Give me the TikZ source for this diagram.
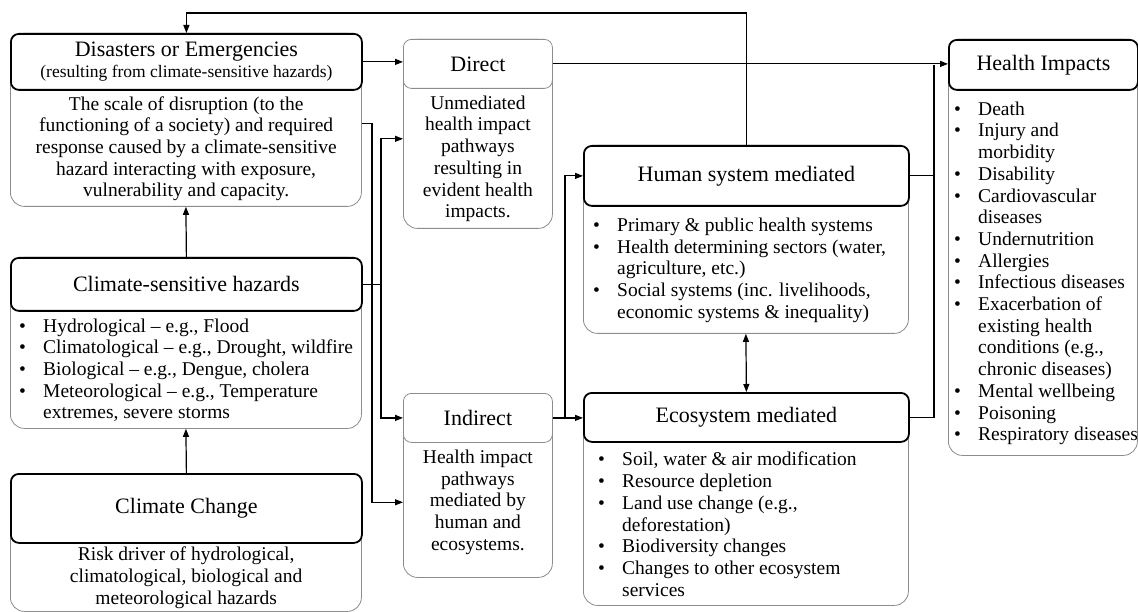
\documentclass[tikz,border=0pt]{standalone}
\usepackage{fontspec}
\setmainfont{Liberation Serif}
\usepackage{tikz}
\usetikzlibrary{arrows.meta}
\usetikzlibrary{calc}
\usetikzlibrary{positioning}
\newcommand{\headfont}{\fontsize{22}{25}\selectfont}
\newcommand{\subfont}{\fontsize{17.5}{19}\selectfont}
\newcommand{\bodyfont}{\fontsize{19.5}{21.7}\selectfont}
\newcommand{\bl}{\makebox[24pt][l]{\textbullet}}
\newcommand{\cl}{\hspace*{24pt}}

\begin{document}
\begin{tikzpicture}[x=1pt, y=-1pt, auto, >={Triangle[length=8pt,width=6pt]}]

    % TikZ styles for drawing %%%%%%%%%%%%%%%%%%%%%%%%%%%%%%%%%%%%%%%%%%%%%%%%%%%%%%
    \tikzstyle{frame} = [draw=black!45, line width=0.8pt, rounded corners=14pt, anchor=north west, inner sep=0pt]
    \tikzstyle{head} = [draw, line width=1.8pt, rounded corners=8pt, fill=white, anchor=north west, inner sep=0pt, align=center, font=\headfont]
    \tikzstyle{body} = [inner sep=0pt, align=center, font=\bodyfont]
    \tikzstyle{list} = [inner sep=0pt, align=left, anchor=west, font=\bodyfont]
    \tikzstyle{connector} = [->, line width=1.2pt]
    \tikzstyle{line} = [line width=1.2pt]

    \useasboundingbox (0,0) rectangle (1138,612);

    % Left column %%%%%%%%%%%%%%%%%%%%%%%%%%%%%%%%%%%%%%%%%%%%%%%%%%%%%%%%%%%%%%%%%%%%
    \node[frame, minimum width=351pt, minimum height=173pt] (disframe) at (10,33) {};
    \node[head, minimum width=351pt, minimum height=56pt] (dis) at (disframe.north west)
      {Disasters or Emergencies\\[-4pt]{\subfont (resulting from climate-sensitive hazards)}};
    \node[body] (disbody) at ($(dis.south)!0.5!(disframe.south)$)
      {The scale of disruption (to the\\ functioning of a society) and required\\
       response caused by a climate-sensitive\\ hazard interacting with exposure,\\
       vulnerability and capacity.};

    \node[frame, minimum width=351pt, minimum height=171pt] (hazframe) at (10,257) {};
    \node[head, minimum width=351pt, minimum height=53pt] (haz) at (hazframe.north west)
      {Climate-sensitive hazards};
    \node[list, xshift=9pt] (hazbody) at ($(haz.south west)!0.5!(hazframe.south west)$)
      {\bl Hydrological \textendash{} e.g., Flood\\
       \bl Climatological \textendash{} e.g., Drought, wildfire\\
       \bl Biological \textendash{} e.g., Dengue, cholera\\
       \bl Meteorological \textendash{} e.g., Temperature\\
       \cl extremes, severe storms};

    \node[frame, minimum width=351pt, minimum height=138pt] (ccframe) at (10,473) {};
    \node[head, minimum width=351pt, minimum height=69pt] (cc) at (ccframe.north west)
      {Climate Change};
    \node[body] (ccbody) at ($(cc.south)!0.5!(ccframe.south)$)
      {Risk driver of hydrological,\\ climatological, biological and\\ meteorological hazards};

    % Pathways %%%%%%%%%%%%%%%%%%%%%%%%%%%%%%%%%%%%%%%%%%%%%%%%%%%%%%%%%%%%%%%%%%%%%%%
    \node[frame, minimum width=149pt, minimum height=189pt] (dirframe) at (403,39) {};
    \node[head, minimum width=149pt, minimum height=49pt, draw=black!45, line width=0.8pt] (direct) at (dirframe.north west)
      {Direct};
    \node[body] (dirbody) at ($(direct.south)!0.5!(dirframe.south)$)
      {Unmediated\\ health impact\\ pathways\\ resulting in\\ evident health\\ impacts.};

    \node[frame, minimum width=149pt, minimum height=184pt] (indframe) at (403,393) {};
    \node[head, minimum width=149pt, minimum height=49pt, draw=black!45, line width=0.8pt] (indirect) at (indframe.north west)
      {Indirect};
    \node[body, yshift=8pt] (indbody) at ($(indirect.south)!0.5!(indframe.south)$)
      {Health impact\\ pathways\\ mediated by\\ human and\\ ecosystems.};

    % Mediators %%%%%%%%%%%%%%%%%%%%%%%%%%%%%%%%%%%%%%%%%%%%%%%%%%%%%%%%%%%%%%%%%%%%%%
    \node[frame, minimum width=325pt, minimum height=188pt] (humanframe) at (583,145) {};
    \node[head, minimum width=325pt, minimum height=60pt] (human) at (humanframe.north west)
      {Human system mediated};
    \node[list, xshift=10pt] (humanbody) at ($(human.south west)!0.5!(humanframe.south west)$)
      {\bl Primary \& public health systems\\
       \bl Health determining sectors (water,\\
       \cl agriculture, etc.)\\
       \bl Social systems (inc. livelihoods,\\
       \cl economic systems \& inequality)};

    \node[frame, minimum width=325pt, minimum height=213pt] (ecoframe) at (583,392) {};
    \node[head, minimum width=325pt, minimum height=49pt] (eco) at (ecoframe.north west)
      {Ecosystem mediated};
    \node[list, xshift=15pt] (ecobody) at ($(eco.south west)!0.5!(ecoframe.south west)$)
      {\bl Soil, water \& air modification\\
       \bl Resource depletion\\
       \bl Land use change (e.g.,\\
       \cl deforestation)\\
       \bl Biodiversity changes\\
       \bl Changes to other ecosystem\\
       \cl services};

    % Outcomes %%%%%%%%%%%%%%%%%%%%%%%%%%%%%%%%%%%%%%%%%%%%%%%%%%%%%%%%%%%%%%%%%%%%%%%
    \node[frame, minimum width=189pt, minimum height=416pt] (impframe) at (948,39) {};
    \node[head, minimum width=189pt, minimum height=50pt] (impacts) at (impframe.north west)
      {Health Impacts};
    \node[list, xshift=6pt] (impbody) at ($(impacts.south west)!0.5!(impframe.south west)$)
      {\bl Death\\
       \bl Injury and\\ \cl morbidity\\
       \bl Disability\\
       \bl Cardiovascular\\ \cl diseases\\
       \bl Undernutrition\\
       \bl Allergies\\
       \bl Infectious diseases\\
       \bl Exacerbation of\\ \cl existing health\\ \cl conditions (e.g.,\\ \cl chronic diseases)\\
       \bl Mental wellbeing\\
       \bl Poisoning\\
       \bl Respiratory diseases};

    % Now link the nodes %%%%%%%%%%%%%%%%%%%%%%%%%%%%%%%%%%%%%%%%%%%%%%%%%%%%%%%%%%%%%%%
    \coordinate (top) at (0,13);
    \coordinate (busA) at (372,0);
    \coordinate (busB) at (381,0);
    \coordinate (busC) at (565,0);
    \coordinate (busD) at (934,0);
    \coordinate (dirin) at ($(direct.south west)+(0,50)$);

    \draw [connector] (human.north) -- (human.north |- top) -| (dis.north);
    \draw [connector] (dis.east) -- (dis.east -| direct.west);
    \draw [connector] ($(disframe.east)+(0,4)$) -| (busA |- indbody) -- (indframe.west |- indbody);
    \draw [connector] (haz.east) -| (busB |- dirin) -- (dirin);
    \draw [connector] (haz.east -| busB) |- (indirect.west);
    \draw [connector] (haz.north) -- (disframe.south);
    \draw [connector] (cc.north) -- (hazframe.south);
    \draw [connector] (direct.east) -- (direct.east -| impacts.west);
    \draw [connector] (indirect.east) -- (indirect.east -| eco.west);
    \draw [connector] (indirect.east -| busC) |- (human.west);
    \draw [line]      (human.east) -| (busD |- impacts.west);
    \draw [line]      (eco.east) -| (busD |- impacts.west);
    \draw [<->, line width=1.2pt] (humanframe.south) -- (eco.north);

\end{tikzpicture}
\end{document}
